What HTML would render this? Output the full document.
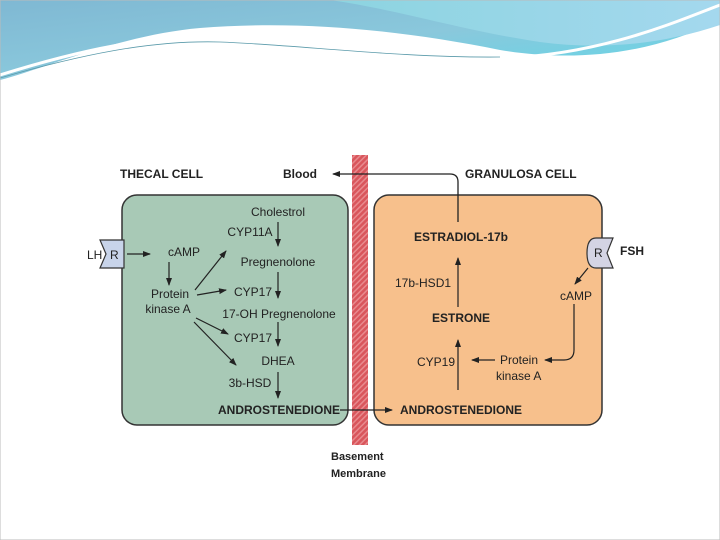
<!DOCTYPE html>
<html><head><style>
body{margin:0;width:720px;height:540px;overflow:hidden;background:#fff}
svg{display:block}
text{font-family:"Liberation Sans",sans-serif;fill:#222}
.b{font-weight:bold}
</style></head><body>
<svg width="720" height="540" viewBox="0 0 720 540">
<defs>
<linearGradient id="g1" x1="0" y1="0" x2="1" y2="1"><stop offset="0" stop-color="#7fb8d3"/><stop offset="0.5" stop-color="#8ac8dc"/><stop offset="1" stop-color="#5fd8e8"/></linearGradient>
<linearGradient id="g2" x1="0" y1="0" x2="1" y2="0"><stop offset="0" stop-color="#8cd4e0"/><stop offset="1" stop-color="#a4d8ee"/></linearGradient>
<pattern id="h" width="4" height="4" patternUnits="userSpaceOnUse" patternTransform="rotate(45)"><rect width="4" height="4" fill="#d9565c"/><rect width="1.5" height="4" fill="#e88a8e"/></pattern>
<marker id="a" markerWidth="8" markerHeight="8" refX="7" refY="4" orient="auto" markerUnits="userSpaceOnUse"><path d="M0,1 L8,4 L0,7 Z" fill="#222"/></marker>
</defs>
<path d="M0,0 H720 V20 C640,60 560,60 500,50 C400,30 300,20 200,28 C120,35 40,70 0,80 Z" fill="url(#g1)"/>
<path d="M330,0 H720 V25 C660,45 600,50 540,42 C460,30 400,10 330,0 Z" fill="url(#g2)"/>
<path d="M0,75 C80,50 150,35 220,37 C300,40 400,60 500,58 C600,56 680,20 720,5" fill="none" stroke="#fff" stroke-width="3"/>
<path d="M0,78 C80,55 150,40 220,42 C300,45 400,58 500,57" fill="none" stroke="#5a9aaa" stroke-width="0.8"/>
<rect x="0" y="0" width="720" height="540" fill="none" stroke="#bbb" stroke-width="1"/>

<rect x="352" y="155" width="16" height="290" fill="url(#h)"/>
<rect x="122" y="195" width="226" height="230" rx="15" fill="#a8c9b6" stroke="#333" stroke-width="1.5"/>
<rect x="374" y="195" width="228" height="230" rx="15" fill="#f7c08c" stroke="#333" stroke-width="1.5"/>

<text x="120" y="178" class="b" font-size="12">THECAL CELL</text>
<text x="283" y="178" class="b" font-size="12">Blood</text>
<text x="465" y="178" class="b" font-size="12">GRANULOSA CELL</text>
<path d="M458,222 V182 Q458,174 450,174 H333" fill="none" stroke="#222" stroke-width="1.3" marker-end="url(#a)"/>

<g font-size="12" text-anchor="middle">
<text x="278" y="216">Cholestrol</text>
<text x="250" y="236">CYP11A</text>
<text x="278" y="266">Pregnenolone</text>
<text x="253" y="296">CYP17</text>
<text x="279" y="318">17-OH Pregnenolone</text>
<text x="253" y="342">CYP17</text>
<text x="278" y="365">DHEA</text>
<text x="250" y="387">3b-HSD</text>
<text x="279" y="414" class="b">ANDROSTENEDIONE</text>
<text x="170" y="298">Protein</text>
<text x="168" y="313">kinase A</text>
<text x="168" y="256" text-anchor="start">cAMP</text>
</g>
<text x="87" y="259" font-size="12">LH</text>
<path d="M100,240 H124 V268 H100 L106,254 Z" fill="#c8d4ea" stroke="#333" stroke-width="1.2"/>
<text x="110" y="259" font-size="12">R</text>
<g stroke="#222" stroke-width="1.2" fill="none" marker-end="url(#a)">
<line x1="278" y1="222" x2="278" y2="246"/>
<line x1="278" y1="272" x2="278" y2="298"/>
<line x1="278" y1="322" x2="278" y2="346"/>
<line x1="278" y1="372" x2="278" y2="398"/>
<line x1="127" y1="254" x2="150" y2="254"/>
<line x1="169" y1="262" x2="169" y2="285"/>
<line x1="195" y1="290" x2="226" y2="251"/>
<line x1="197" y1="295" x2="226" y2="290"/>
<line x1="196" y1="318" x2="228" y2="334"/>
<line x1="194" y1="322" x2="236" y2="365"/>
<line x1="340" y1="410" x2="392" y2="410"/>
<line x1="458" y1="390" x2="458" y2="340"/>
<line x1="458" y1="307" x2="458" y2="258"/>
<line x1="495" y1="360" x2="472" y2="360"/>
<line x1="588" y1="268" x2="575" y2="284"/>
<path d="M574,304 V350 Q574,360 564,360 H545"/>
</g>
<g font-size="12">
<text x="414" y="241" class="b">ESTRADIOL-17b</text>
<text x="395" y="287">17b-HSD1</text>
<text x="432" y="322" class="b">ESTRONE</text>
<text x="417" y="366">CYP19</text>
<text x="500" y="364">Protein</text>
<text x="496" y="380">kinase A</text>
<text x="560" y="300">cAMP</text>
<text x="400" y="414" class="b">ANDROSTENEDIONE</text>
<text x="620" y="255" class="b">FSH</text>
</g>
<path d="M613,238 H596 Q587,238 587,253 Q587,268 596,268 H613 L607,253 Z" fill="#d4d4e4" stroke="#333" stroke-width="1.2"/>
<text x="594" y="257" font-size="12">R</text>
<text x="331" y="460" class="b" font-size="11">Basement</text>
<text x="331" y="477" class="b" font-size="11">Membrane</text>
</svg>
</body></html>
